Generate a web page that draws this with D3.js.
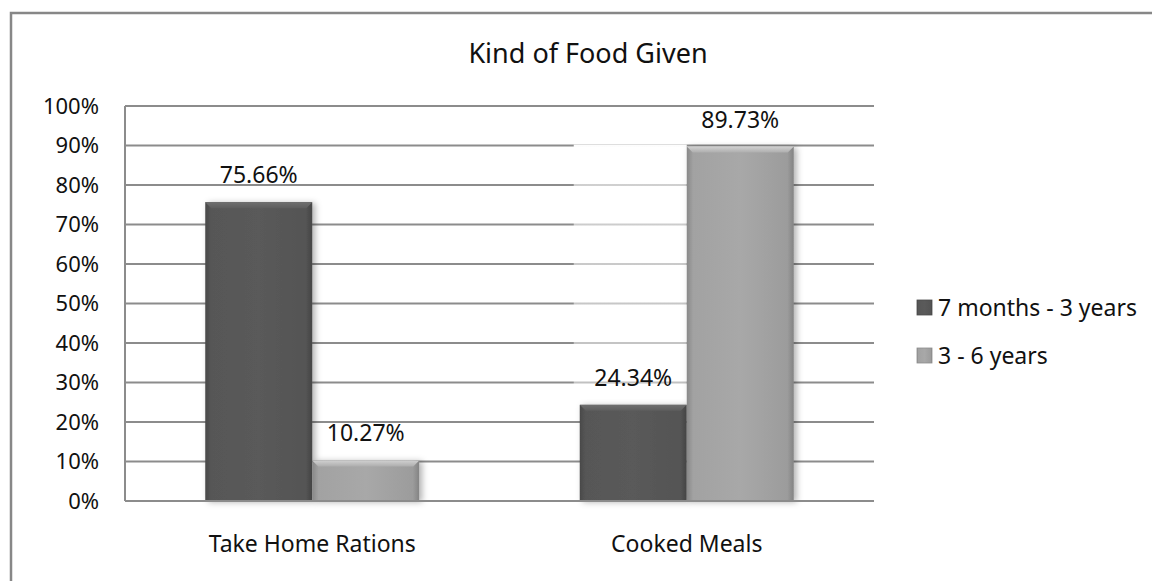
<!DOCTYPE html>
<html><head><meta charset="utf-8">
<script src="https://cdn.jsdelivr.net/npm/d3@7"></script>
<style>body{margin:0;background:#fff}svg{display:block;font-family:"Noto Sans",sans-serif}</style>
</head><body><svg id="c" width="1152" height="581"></svg>
<script>
const title = "Kind of Food Given";
const categories = ["Take Home Rations", "Cooked Meals"];
const seriesNames = ["7 months - 3 years", "3 - 6 years"];
const seriesA = [0.7566, 0.2434];
const seriesB = [0.1027, 0.8973];
const yTicks = [0,0.1,0.2,0.3,0.4,0.5,0.6,0.7,0.8,0.9,1.0];
const labels = ["75.66%","24.34%","10.27%","89.73%"];

const svg = d3.select("#c");
const plot = {l:125, r:874, t:106, b:501};
const y = d3.scaleLinear().domain([0,1]).range([plot.b, plot.t]);
const x0 = d3.scaleBand().domain(categories).range([plot.l, plot.r]).padding(0);
const bw = x0.bandwidth();
const groupW = bw/1.75;
const x1 = d3.scaleBand().domain(seriesNames).range([(bw-groupW)/2, (bw+groupW)/2]);

const defs = svg.append("defs");
function grads(id, base){
  const c = d3.color(base);
  const g = defs.append("linearGradient").attr("id",id).attr("x1",0).attr("x2",1).attr("y1",0).attr("y2",0);
  g.append("stop").attr("offset","0%").attr("stop-color",c.darker(0.6));
  g.append("stop").attr("offset","6%").attr("stop-color",c.darker(0.1));
  g.append("stop").attr("offset","50%").attr("stop-color",c);
  g.append("stop").attr("offset","94%").attr("stop-color",c.darker(0.2));
  g.append("stop").attr("offset","100%").attr("stop-color",c.darker(0.7));
  const t = defs.append("linearGradient").attr("id",id+"t").attr("x1",0).attr("x2",0).attr("y1",0).attr("y2",1);
  t.append("stop").attr("offset","0%").attr("stop-color",c.brighter(0.6));
  t.append("stop").attr("offset","100%").attr("stop-color",c.brighter(0.1));
}
const colors = ["#5a5a5a","#a8a8a8"];
grads("gA", colors[0]); grads("gB", colors[1]);
const f = defs.append("filter").attr("id","sh").attr("x","-20%").attr("y","-20%").attr("width","140%").attr("height","140%");
f.append("feDropShadow").attr("dx",3).attr("dy",1).attr("stdDeviation",3).attr("flood-color","#000").attr("flood-opacity",0.3);
const fade = defs.append("linearGradient").attr("id","fade").attr("x1",0).attr("x2",0).attr("y1",0).attr("y2",1);
fade.append("stop").attr("offset","0%").attr("stop-color","#fff").attr("stop-opacity",1);
fade.append("stop").attr("offset","8%").attr("stop-color","#fff").attr("stop-opacity",0.6);
fade.append("stop").attr("offset","100%").attr("stop-color","#fff").attr("stop-opacity",0.45);

// outer border
svg.append("rect").attr("x",11).attr("y",13).attr("width",1170).attr("height",620)
  .attr("fill","#fff").attr("stroke","#878787").attr("stroke-width",2.5);

// gridlines
svg.append("g").selectAll("line").data(yTicks).join("line")
  .attr("x1",plot.l).attr("x2",plot.r).attr("y1",d=>y(d)).attr("y2",d=>y(d))
  .attr("stroke","#8c8c8c").attr("stroke-width",2);

// left axis line
svg.append("line").attr("x1",plot.l).attr("x2",plot.l).attr("y1",plot.t).attr("y2",plot.b)
  .attr("stroke","#8c8c8c").attr("stroke-width",2);

// y tick labels
svg.append("g").selectAll("text").data(yTicks).join("text")
  .attr("x",99).attr("y",d=>y(d)).attr("dy","0.36em").attr("text-anchor","end")
  .attr("font-size",22).attr("fill","#111").text(d=>d3.format(".0%")(d));

// bars
const data = [];
categories.forEach((c,i)=>{
  data.push({c, s:seriesNames[0], v:seriesA[i], other:seriesB[i], g:"gA", label:labels[i]});
  data.push({c, s:seriesNames[1], v:seriesB[i], other:seriesA[i], g:"gB", label:labels[2+i]});
});

// faint reflection area above the short bar next to a tall one
svg.append("g").selectAll("rect").data(data.filter(d=>d.s===seriesNames[0] && d.other>d.v)).join("rect")
  .attr("x",d=>x0(d.c)+x1(d.s)-6).attr("width",x1.bandwidth()+6)
  .attr("y",d=>y(d.other)-2).attr("height",d=>y(d.v)-y(d.other)+2)
  .attr("fill","url(#fade)");

const bars = svg.append("g").selectAll("g").data(data).join("g")
  .attr("transform",d=>`translate(${x0(d.c)+x1(d.s)},0)`);
bars.append("rect").attr("x",0).attr("y",d=>y(d.v)).attr("width",x1.bandwidth()).attr("height",d=>plot.b-y(d.v))
  .attr("fill",d=>`url(#${d.g})`).attr("filter","url(#sh)");
bars.append("path").attr("d",d=>{const w=x1.bandwidth(),t=y(d.v);return `M0,${t}L${w},${t}L${w-6},${t+6}L6,${t+6}Z`;})
  .attr("fill",d=>`url(#${d.g}t)`);

// bottom axis line
svg.append("line").attr("x1",plot.l).attr("x2",plot.r).attr("y1",plot.b).attr("y2",plot.b)
  .attr("stroke","#8c8c8c").attr("stroke-width",2);

// data labels
svg.append("g").selectAll("text").data(data).join("text")
  .attr("x",d=>x0(d.c)+x1(d.s)+x1.bandwidth()/2).attr("y",d=>y(d.v)-19)
  .attr("text-anchor","middle").attr("font-size",23).attr("fill","#111").text(d=>d.label);

// category labels
svg.append("g").selectAll("text").data(categories).join("text")
  .attr("x",d=>x0(d)+bw/2).attr("y",552).attr("text-anchor","middle")
  .attr("font-size",23).attr("fill","#111").text(d=>d);

// title
svg.append("text").attr("x",588).attr("y",63).attr("text-anchor","middle")
  .attr("font-size",27).attr("fill","#111").text(title);

// legend
const lg = svg.append("g").selectAll("g").data(seriesNames).join("g")
  .attr("transform",(d,i)=>`translate(917,${307.5+i*48})`);
lg.append("rect").attr("x",0).attr("y",-7.5).attr("width",15).attr("height",15)
  .attr("fill",(d,i)=>`url(#${i?"gB":"gA"})`).attr("stroke",(d,i)=>d3.color(colors[i]).darker(0.5)).attr("stroke-width",0.8);
lg.append("text").attr("x",21).attr("y",0).attr("dy","0.36em").attr("font-size",23).attr("fill","#111").text(d=>d);
</script></body></html>
